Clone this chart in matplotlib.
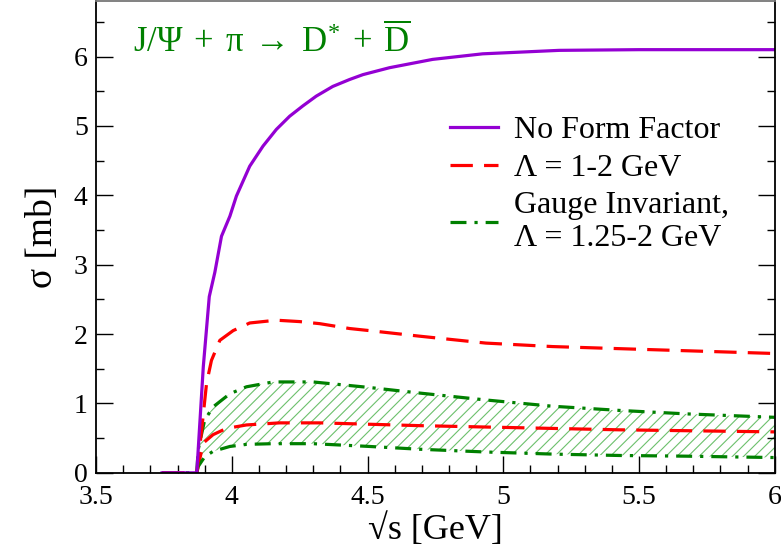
import matplotlib
matplotlib.use("Agg")
import matplotlib.pyplot as plt
import numpy as np

plt.rcParams['font.family'] = ['Liberation Serif', 'DejaVu Serif']
plt.rcParams['mathtext.fontset'] = 'custom'
plt.rcParams['mathtext.rm'] = 'Liberation Serif'
plt.rcParams['mathtext.it'] = 'Liberation Serif:italic'
plt.rcParams['hatch.linewidth'] = 0.8

# no form factor
x_nff = [3.743, 3.871, 3.895, 3.917, 3.9375, 3.962, 3.993, 4.017, 4.066, 4.115, 4.164,
         4.213, 4.262, 4.311, 4.372, 4.434, 4.483, 4.581, 4.740, 4.924, 5.206, 5.5, 6.0]
y_nff = [0, 0, 1.53, 2.54, 2.89, 3.41, 3.70, 3.99, 4.42, 4.71, 4.95,
         5.14, 5.29, 5.43, 5.57, 5.67, 5.74, 5.84, 5.96, 6.04, 6.09, 6.10, 6.10]

# Lambda = 1-2 GeV, upper and lower
x_ff_hi = [3.743, 3.871, 3.889, 3.907, 3.925, 3.956, 4.005, 4.066, 4.164, 4.25, 4.324,
           4.434, 4.507, 4.691, 4.936, 5.181, 5.426, 5.672, 6.0]
y_ff_hi = [0, 0, 0.62, 1.29, 1.62, 1.91, 2.05, 2.16, 2.20, 2.18, 2.15,
           2.08, 2.05, 1.97, 1.87, 1.82, 1.79, 1.76, 1.72]
x_ff_lo = [3.743, 3.871, 3.876, 3.895, 3.931, 3.980, 4.054, 4.176, 4.324, 4.691, 5.059, 5.426, 6.0]
y_ff_lo = [0, 0, 0.09, 0.43, 0.55, 0.64, 0.69, 0.72, 0.72, 0.68, 0.65, 0.62, 0.59]

# gauge invariant, Lambda = 1.25-2 GeV
x_gi = [3.743, 3.871, 3.876, 3.90, 3.931, 3.993, 4.054, 4.152, 4.299, 4.507, 4.691,
        4.936, 5.181, 5.426, 5.672, 6.0]
y_gi_hi = [0, 0, 0.33, 0.76, 0.95, 1.14, 1.24, 1.31, 1.31, 1.23, 1.15,
           1.05, 0.96, 0.90, 0.85, 0.80]
y_gi_lo = [0, 0, 0.09, 0.23, 0.31, 0.38, 0.41, 0.42, 0.42, 0.38, 0.34,
           0.30, 0.27, 0.25, 0.24, 0.22]

labels = ['No Form Factor', 'Λ = 1-2 GeV', 'Gauge Invariant,\nΛ = 1.25-2 GeV']

fig = plt.figure(figsize=(7.81, 5.53), dpi=100)
ax = fig.add_axes([0.123, 0.145, 0.869, 0.853])

ax.fill_between(x_gi, y_gi_lo, y_gi_hi, facecolor='none', edgecolor='#6cc06c',
                hatch='///', linewidth=0)

red_dash = (7, 3.5)
green_dd = (5, 2.5, 1, 2.5)
ax.plot(x_ff_lo, y_ff_lo, color='red', lw=2.3, dashes=red_dash)
ax.plot(x_gi, y_gi_hi, color='green', lw=2.3, dashes=green_dd)
ax.plot(x_gi, y_gi_lo, color='green', lw=2.3, dashes=green_dd)
ax.plot(x_ff_hi, y_ff_hi, color='red', lw=2.3, dashes=red_dash)
ax.plot(x_nff, y_nff, color='#9400d3', lw=2.3)

h1, = ax.plot([], [], color='#9400d3', lw=2.3)
h2, = ax.plot([], [], color='red', lw=2.3, dashes=red_dash)
h3, = ax.plot([], [], color='green', lw=2.3, dashes=green_dd)
ax.legend([h1, h2, h3], labels,
          loc='upper left', bbox_to_anchor=(0.498, 0.79), frameon=False, fontsize=23,
          handlelength=1.5, handletextpad=0.5, labelspacing=0.25, borderpad=0)

ax.text(0.054, 0.892, r'$\mathrm{J/\Psi\;+\;\pi\;\rightarrow\;D^{*}\;+\;\overline{D}}$',
        transform=ax.transAxes, color='green', fontsize=25, va='baseline')

ax.set_xlim(3.5, 6)
ax.set_ylim(0, 6.8)
ax.set_xticks(np.arange(3.5, 6.01, 0.5))
ax.set_xticklabels(['3.5', '4', '4.5', '5', '5.5', '6'])
ax.set_xticks(np.arange(3.5, 6.01, 0.1), minor=True)
ax.set_yticks(np.arange(0, 7, 1))
ax.set_yticks(np.arange(0, 6.8, 0.5), minor=True)
ax.tick_params(which='both', direction='in', right=True, labelsize=20, width=1)
ax.tick_params(which='major', length=12)
ax.tick_params(axis='x', which='major', pad=9)
ax.tick_params(axis='y', which='major', pad=6)
ax.tick_params(which='minor', length=6)
for s in ax.spines.values():
    s.set_linewidth(1.3)
ax.spines['top'].set_color('#777777')

ax.set_xlabel('√s [GeV]', fontsize=26, labelpad=2)
ax.set_ylabel('σ [mb]', fontsize=27, labelpad=10)

fig.savefig('out.png', dpi=100)
